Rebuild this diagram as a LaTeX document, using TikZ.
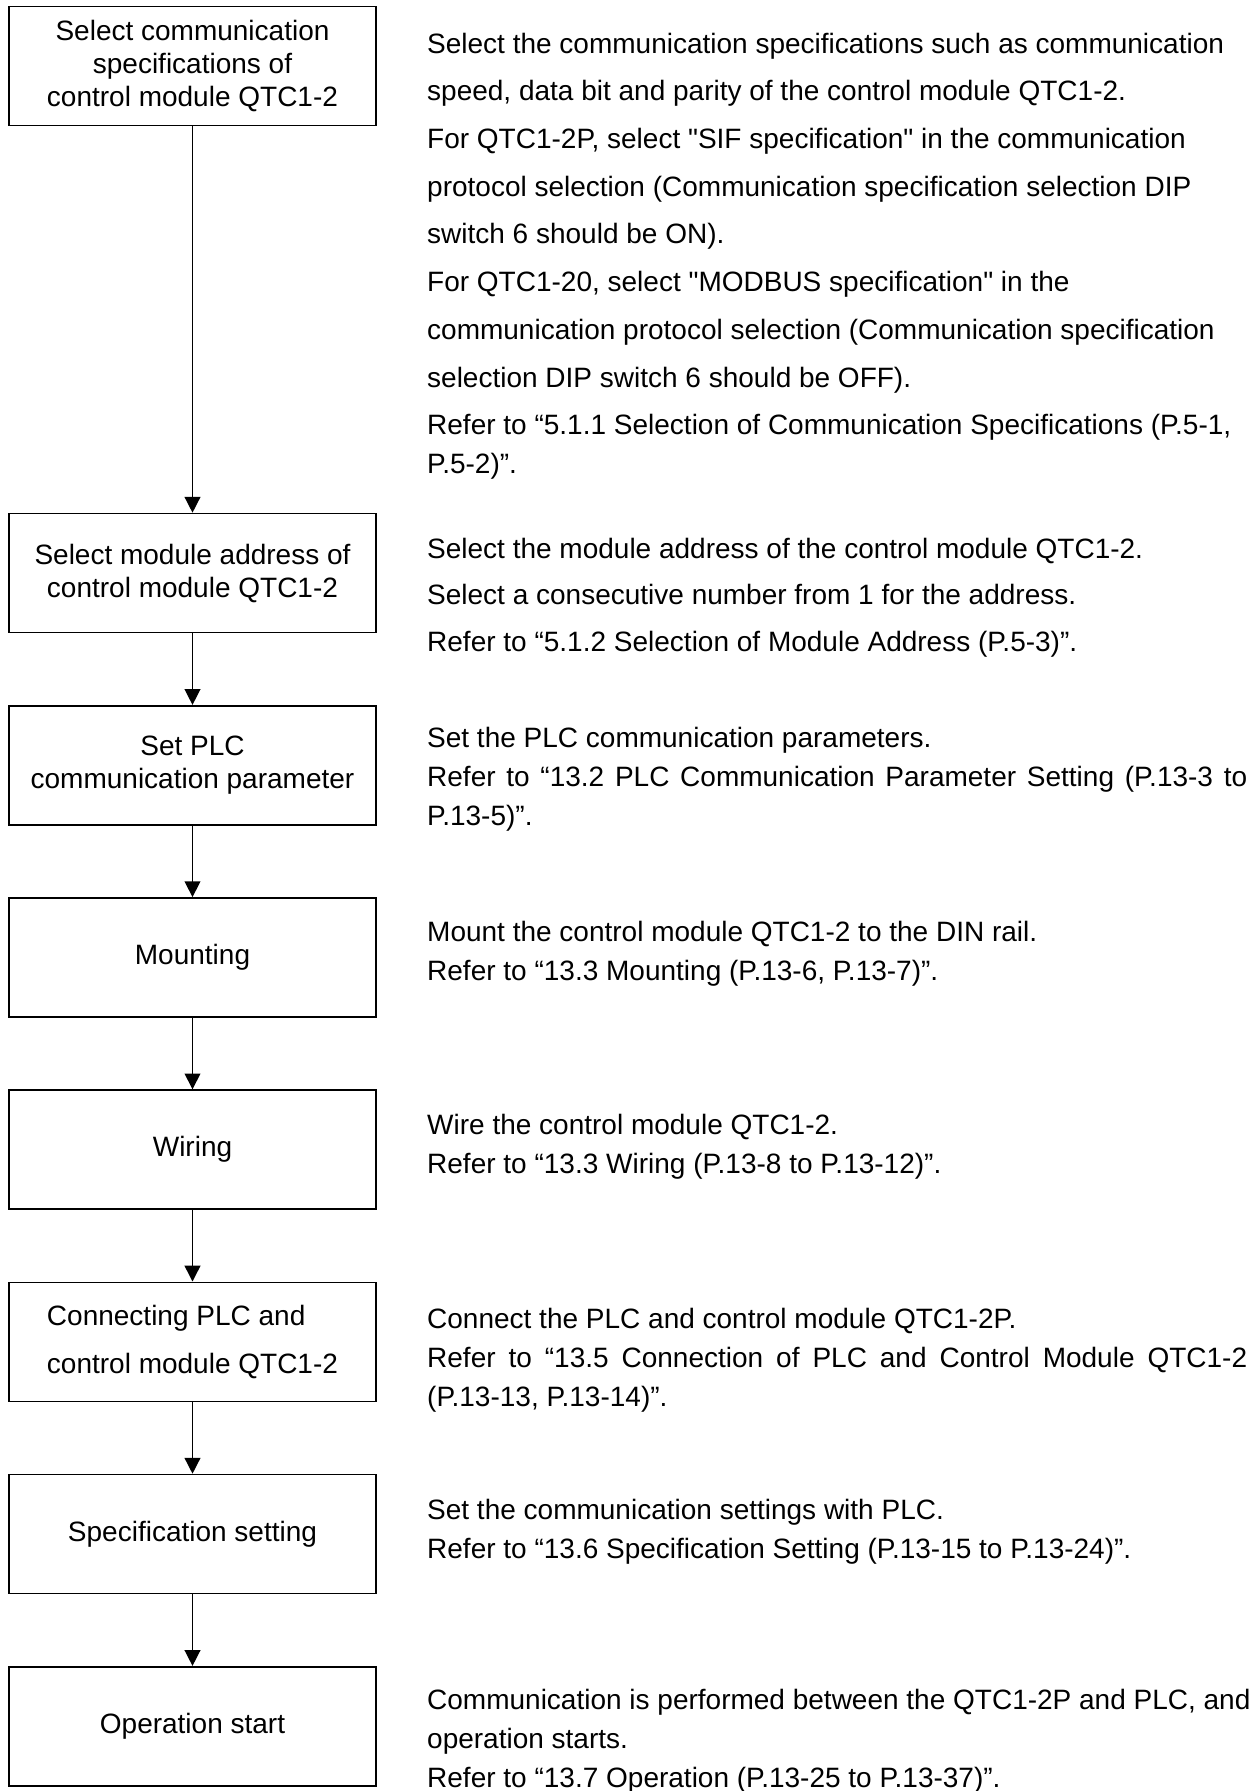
\documentclass[tikz,border=0pt]{standalone}
\usepackage{fontspec}
\setmainfont{Liberation Sans}[Ligatures=TeXOff]
\usetikzlibrary{arrows.meta, positioning, calc}

\begin{document}
\begin{tikzpicture}[
    node distance=35.8pt,
    base/.style={draw, line width=0.8pt, minimum width=183.5pt, minimum height=59.5pt, align=center, font=\fontsize{14}{16.5}\selectfont},
    base_left/.style={base, align=left, font=\fontsize{14}{24}\selectfont},
    desc/.style={anchor=north west, inner sep=0pt, align=left, font=\fontsize{14}{19.5}\selectfont},
    flow/.style={-{Triangle[width=7.9pt, length=7.9pt]}, line width=0.7pt}
]
    \useasboundingbox (0,0) rectangle (629pt,-895.5pt);

    % steps
    \node[base] (b1) at (96.25pt,-33pt) {Select communication\\specifications of\\control module QTC1-2};
    \node[base, below=193.2pt of b1] (b2) {Select module address of\\control module QTC1-2};
    \node[base, below=of b2] (b3) {Set PLC\\communication parameter};
    \node[base, below=of b3] (b4) {Mounting};
    \node[base, below=of b4] (b5) {Wiring};
    \node[base_left, below=of b5] (b6) {Connecting PLC and\\control module QTC1-2};
    \node[base, below=of b6] (b7) {Specification setting};
    \node[base, below=of b7] (b8) {Operation start};

    \draw[flow] (b1) -- (b2);
    \draw[flow] (b2) -- (b3);
    \draw[flow] (b3) -- (b4);
    \draw[flow] (b4) -- (b5);
    \draw[flow] (b5) -- (b6);
    \draw[flow] (b6) -- (b7);
    \draw[flow] (b7) -- (b8);

    % descriptions
    \node[desc, font=\fontsize{14}{23.85}\selectfont] (d1) at ($(b1.north east)+(25pt,-13.4pt)$) {Select the communication specifications such as communication\\
        speed, data bit and parity of the control module QTC1-2.\\
        For QTC1-2P, select "SIF specification" in the communication\\
        protocol selection (Communication specification selection DIP\\
        switch 6 should be ON).\\
        For QTC1-20, select "MODBUS specification" in the\\
        communication protocol selection (Communication specification\\
        selection DIP switch 6 should be OFF).\\
        Refer to “5.1.1 Selection of Communication Specifications (P.5-1,\\[-4.35pt]
        P.5-2)”.};
    \node[desc, font=\fontsize{14}{23.25}\selectfont] (d2) at ($(b2.north east)+(25pt,-12.4pt)$) {Select the module address of the control module QTC1-2.\\
        Select a consecutive number from 1 for the address.\\
        Refer to “5.1.2 Selection of Module Address (P.5-3)”.};
    \node[desc] (d3) at ($(b3.north east)+(25pt,-10.9pt)$) {Set the PLC communication parameters.\\
        \makebox[410pt][s]{Refer to “13.2 PLC Communication Parameter Setting (P.13-3 to}\\
        P.13-5)”.};
    \node[desc] (d4) at ($(b4.north east)+(25pt,-11.9pt)$) {Mount the control module QTC1-2 to the DIN rail.\\
        Refer to “13.3 Mounting (P.13-6, P.13-7)”.};
    \node[desc] (d5) at ($(b5.north east)+(25pt,-12.4pt)$) {Wire the control module QTC1-2.\\
        Refer to “13.3 Wiring (P.13-8 to P.13-12)”.};
    \node[desc] (d6) at ($(b6.north east)+(25pt,-12.9pt)$) {Connect the PLC and control module QTC1-2P.\\
        \makebox[410pt][s]{Refer to “13.5 Connection of PLC and Control Module QTC1-2}\\
        (P.13-13, P.13-14)”.};
    \node[desc] (d7) at ($(b7.north east)+(25pt,-12.4pt)$) {Set the communication settings with PLC.\\
        Refer to “13.6 Specification Setting (P.13-15 to P.13-24)”.};
    \node[desc] (d8) at ($(b8.north east)+(25pt,-11.4pt)$) {Communication is performed between the QTC1-2P and PLC, and\\
        operation starts.\\
        Refer to “13.7 Operation (P.13-25 to P.13-37)”.};
\end{tikzpicture}
\end{document}
